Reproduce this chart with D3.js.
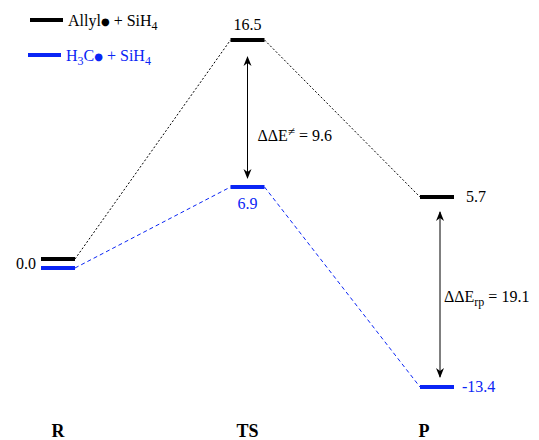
<!DOCTYPE html>
<html>
<head>
<meta charset="utf-8">
<script src="https://cdn.jsdelivr.net/npm/d3@7"></script>
<style>
  body { margin: 0; background: #fff; }
  svg text { font-family: "Liberation Serif", "DejaVu Serif", serif; }
</style>
</head>
<body>
<svg id="chart" width="539" height="440" font-family="Liberation Serif, DejaVu Serif, serif"></svg>
<script>
// stationary points along the reaction coordinate
const stages = ["R", "TS", "P"]
// relative energies (kcal/mol)
const allylEnergies = [0.0, 16.5, 5.7]
const methylEnergies = [0.0, 6.9, -13.4]
// energy differences drawn as double arrows
const ddeBarrier = 9.6
const ddeReaction = 19.1

const series = [
    {name: "allyl", color: "#000000", values: allylEnergies, dash: "2,2"},
    {name: "methyl", color: "#0a25f5", values: methylEnergies, dash: "4,3"}
]

const svg = d3.select("#chart")

const x = d3.scalePoint().domain(stages).range([58, 437])
// diagram is not drawn to scale, so use a piecewise scale
const y = d3.scaleLinear()
    .domain([-13.4, 0, 5.7, 6.9, 16.5])
    .range([387, 263.5, 197, 187, 40])

const halfW = 17
// keep overlapping levels apart
function ly(s, i) {
    const v = series[s].values[i]
    const same = series.every(d => d.values[i] === v)
    if (same) return y(v) + (s === 0 ? -4.5 : 4.5)
    return y(v)
}

const defs = svg.append("defs")
defs.append("marker")
    .attr("id", "head")
    .attr("viewBox", "0 0 10 10")
    .attr("refX", 9)
    .attr("refY", 5)
    .attr("markerWidth", 10)
    .attr("markerHeight", 10)
    .attr("markerUnits", "userSpaceOnUse")
    .attr("orient", "auto-start-reverse")
  .append("path")
    .attr("d", "M0,1 L10,5 L0,9 L3,5 Z")
    .attr("fill", "#000")

// connectors
series.forEach((s, si) => {
    for (let i = 0; i < stages.length - 1; i++) {
        svg.append("line")
            .attr("x1", x(stages[i]) + halfW)
            .attr("y1", ly(si, i))
            .attr("x2", x(stages[i + 1]) - halfW)
            .attr("y2", ly(si, i + 1))
            .attr("stroke", s.color)
            .attr("stroke-width", 1)
            .attr("stroke-dasharray", s.dash)
    }
})

// levels
series.forEach((s, si) => {
    svg.selectAll(null)
        .data(s.values)
        .enter()
        .append("line")
        .attr("x1", (d, i) => x(stages[i]) - halfW)
        .attr("x2", (d, i) => x(stages[i]) + halfW)
        .attr("y1", (d, i) => ly(si, i))
        .attr("y2", (d, i) => ly(si, i))
        .attr("stroke", s.color)
        .attr("stroke-width", 4)
})

// value labels
const fmt = v => v.toFixed(1)
svg.append("text")
    .attr("x", x("R") - 22).attr("y", y(0) + 5)
    .attr("text-anchor", "end").attr("font-size", 16)
    .text(fmt(allylEnergies[0]))
svg.append("text")
    .attr("x", x("TS")).attr("y", y(allylEnergies[1]) - 10)
    .attr("text-anchor", "middle").attr("font-size", 16)
    .text(fmt(allylEnergies[1]))
svg.append("text")
    .attr("x", x("TS")).attr("y", y(methylEnergies[1]) + 22)
    .attr("text-anchor", "middle").attr("font-size", 16)
    .attr("fill", series[1].color)
    .text(fmt(methylEnergies[1]))
svg.append("text")
    .attr("x", x("P") + 29).attr("y", y(allylEnergies[2]) + 5)
    .attr("font-size", 16)
    .text(fmt(allylEnergies[2]))
svg.append("text")
    .attr("x", x("P") + 25).attr("y", y(methylEnergies[2]) + 5)
    .attr("font-size", 16)
    .attr("fill", series[1].color)
    .text(fmt(methylEnergies[2]))

// double arrows
function arrow(xp, y1, y2) {
    svg.append("line")
        .attr("x1", xp).attr("x2", xp)
        .attr("y1", y1).attr("y2", y2)
        .attr("stroke", "#000")
        .attr("stroke-width", 1)
        .attr("marker-start", "url(#head)")
        .attr("marker-end", "url(#head)")
}
arrow(x("TS"), y(allylEnergies[1]) + 17, y(methylEnergies[1]) - 9)
arrow(x("P") + 3, y(allylEnergies[2]) + 15, y(methylEnergies[2]) - 10)

const t1 = svg.append("text")
    .attr("x", x("TS") + 10).attr("y", 141).attr("font-size", 16)
t1.append("tspan").text("ΔΔE")
t1.append("tspan").attr("font-size", 13).attr("dy", -5).text("≠")
t1.append("tspan").attr("dy", 5).text(" = " + fmt(ddeBarrier))

const t2 = svg.append("text")
    .attr("x", x("P") + 7).attr("y", 302).attr("font-size", 16)
t2.append("tspan").text("ΔΔE")
t2.append("tspan").attr("font-size", 12).attr("dy", 4).text("rp")
t2.append("tspan").attr("dy", -4).text(" = " + fmt(ddeReaction))

// stage labels
svg.selectAll(null)
    .data(stages)
    .enter()
    .append("text")
    .attr("x", d => x(d) - (d === "P" ? 13 : 0))
    .attr("y", 437)
    .attr("text-anchor", "middle")
    .attr("font-size", 18)
    .attr("font-weight", "bold")
    .text(d => d)

// legend
const legend = svg.append("g")
series.forEach((s, i) => {
    const g = legend.append("g").attr("transform", `translate(${30 - i * 2}, ${20 + i * 35})`)
    g.append("line")
        .attr("x1", 0).attr("x2", 33)
        .attr("stroke", s.color).attr("stroke-width", 4)
    const t = g.append("text").attr("x", 38).attr("y", 6)
        .attr("font-size", 16).attr("fill", s.color)
    if (i === 0) {
        t.append("tspan").text("Allyl")
    } else {
        t.append("tspan").text("H")
        t.append("tspan").attr("font-size", 12).attr("dy", 4).text("3")
        t.append("tspan").attr("dy", -4).text("C")
    }
    t.append("tspan").attr("font-size", 10).attr("dy", -1)
        .style("font-family", "DejaVu Sans").text("●")
    t.append("tspan").attr("dy", 1).text(" + SiH")
    t.append("tspan").attr("font-size", 12).attr("dy", 4).text("4")
})
</script>
</body>
</html>
